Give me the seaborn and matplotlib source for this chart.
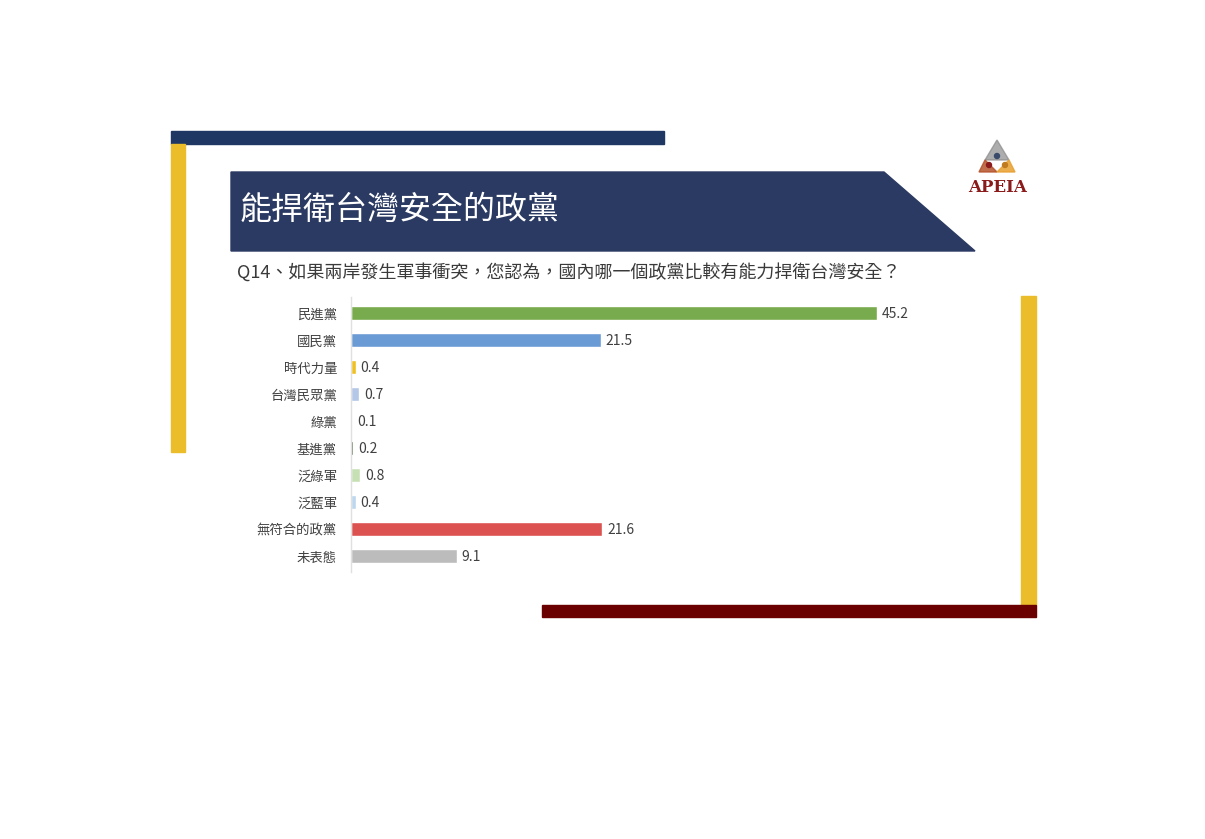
import matplotlib
matplotlib.use('Agg')
import matplotlib.pyplot as plt
from matplotlib.patches import Rectangle, Polygon, Circle
import seaborn as sns

# Survey data
parties = ['民進黨', '國民黨', '時代力量', '台灣民眾黨', '綠黨', '基進黨',
           '泛綠軍', '泛藍軍', '無符合的政黨', '未表態']
shares = [45.2, 21.5, 0.4, 0.7, 0.1, 0.2, 0.8, 0.4, 21.6, 9.1]
bar_colors = ['#78ab4e', '#6b9bd5', '#f0c020', '#b4c7e7', '#d0d0d0',
              '#3d5a30', '#c6e0b4', '#bdd7ee', '#dc5250', '#bcbcbd']

title = '能捍衛台灣安全的政黨'
question = 'Q14、如果兩岸發生軍事衝突，您認為，國內哪一個政黨比較有能力捍衛台灣安全？'

sns.set_theme(style='white')
plt.rcParams['font.family'] = ['Noto Sans CJK TC', 'DejaVu Sans']

W, H = 1205, 839
fig = plt.figure(figsize=(W / 100, H / 100), dpi=100)

# Background layer in pixel coordinates for the slide decoration
bg = fig.add_axes([0, 0, 1, 1])
bg.set_xlim(0, W)
bg.set_ylim(H, 0)
bg.axis('off')

bg.add_patch(Rectangle((171, 131), 493, 13, color='#1f3763'))      # top navy bar
bg.add_patch(Rectangle((171, 144), 14, 308, color='#ebbd2b'))      # left yellow bar
bg.add_patch(Rectangle((1021, 296), 15, 309, color='#ebbd2b'))     # right yellow bar
bg.add_patch(Rectangle((542, 605), 494, 12, color='#6b0000'))      # bottom dark red bar
bg.add_patch(Polygon([(231, 172), (884, 172), (975, 251), (231, 251)],
                     closed=True, color='#2b3a62'))                 # title banner
bg.text(240, 210, title, color='white', fontsize=23, fontweight='medium',
        va='center', ha='left')
bg.text(237, 272, question, color='#3a3a3a', fontsize=13, va='center', ha='left')

# APEIA logo
bg.add_patch(Polygon([(997, 140), (985, 160), (1009, 160)], closed=True, color='#8a8a8a', alpha=0.7))
bg.add_patch(Polygon([(985, 160), (979, 172), (997, 172)], closed=True, color='#b5532b', alpha=0.85))
bg.add_patch(Polygon([(1009, 160), (1015, 172), (997, 172)], closed=True, color='#e8a030', alpha=0.85))
bg.add_patch(Circle((997, 156), 2.5, color='#3a4a6a'))
bg.add_patch(Circle((989, 165), 2.5, color='#8b1a1a'))
bg.add_patch(Circle((1005, 165), 2.5, color='#c07a20'))
bg.text(998, 187, 'APEIA', color='#8b1a1a', fontsize=12, fontweight='bold',
        family='DejaVu Serif', ha='center', va='center')

# Bar chart axes: x from 351 px, 50 units over 582 px; rows 27 px apart
ax_left, ax_right = 351, 933
ax_top, ax_bottom = 296.8, 572.2
ax = fig.add_axes([ax_left / W, 1 - ax_bottom / H,
                   (ax_right - ax_left) / W, (ax_bottom - ax_top) / H])
ax.patch.set_alpha(0)

sns.barplot(x=shares, y=parties, hue=parties, palette=bar_colors, saturation=1,
            legend=False, width=0.52, orient='h', ax=ax)
ax.set_xlim(0, 50)
ax.set_ylim(9.6, -0.6)

for i, v in enumerate(shares):
    ax.text(v + 0.4, i + 0.04, f'{v}', va='center', ha='left', fontsize=10, color='#404040')

ax.set_xlabel('')
ax.set_ylabel('')
ax.set_xticks([])
ax.tick_params(axis='y', length=0, pad=10, labelsize=9.6, labelcolor='#404040')
for side in ['top', 'right', 'bottom']:
    ax.spines[side].set_visible(False)
ax.spines['left'].set_color('#e0e0e0')
ax.spines['left'].set_linewidth(1)

plt.savefig('out.png', dpi=100)
